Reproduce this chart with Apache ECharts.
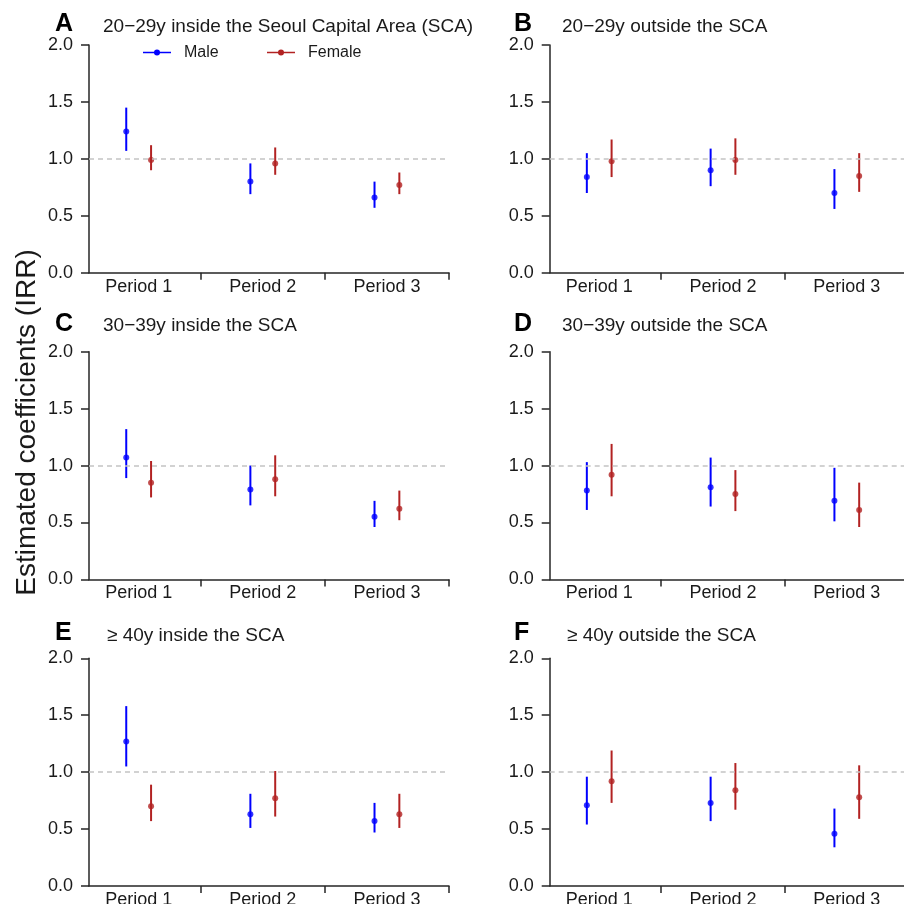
<!DOCTYPE html>
<html>
<head>
<meta charset="utf-8">
<script src="https://cdn.jsdelivr.net/npm/echarts@6/dist/echarts.min.js"></script>
<style>
html,body{margin:0;padding:0;background:#fff;}
#chart{width:904px;height:904px;}
</style>
</head>
<body>
<div id="chart"></div>
<script>
// ---- data ----
const periods = [1, 2, 3];
const periodLabels = ['Period 1', 'Period 2', 'Period 3'];
const yTicks = [0, 0.5, 1.0, 1.5, 2.0];
const panelLetters = ['A', 'B', 'C', 'D', 'E', 'F'];
const panelTitles = [
  '20\u221229y inside the Seoul Capital Area (SCA)',
  '20\u221229y outside the SCA',
  '30\u221239y inside the SCA',
  '30\u221239y outside the SCA',
  '\u2265 40y inside the SCA',
  '\u2265 40y outside the SCA'
];
const seriesNames = ['Male', 'Female'];
// rows = panels A..F, columns = Period 1..3
const maleEst  = [[1.24,0.80,0.66],[0.84,0.90,0.70],[1.07,0.79,0.55],[0.78,0.81,0.69],[1.27,0.63,0.57],[0.71,0.73,0.46]];
const maleLow  = [[1.07,0.69,0.57],[0.70,0.76,0.56],[0.89,0.65,0.46],[0.61,0.64,0.51],[1.05,0.51,0.47],[0.54,0.57,0.34]];
const maleHigh = [[1.45,0.96,0.80],[1.05,1.09,0.91],[1.32,1.00,0.69],[1.03,1.07,0.98],[1.58,0.81,0.73],[0.96,0.96,0.68]];
const femaleEst  = [[0.99,0.96,0.77],[0.98,0.99,0.85],[0.85,0.88,0.62],[0.92,0.75,0.61],[0.70,0.77,0.63],[0.92,0.84,0.78]];
const femaleLow  = [[0.90,0.86,0.69],[0.84,0.86,0.71],[0.72,0.73,0.52],[0.73,0.60,0.46],[0.57,0.61,0.51],[0.73,0.67,0.59]];
const femaleHigh = [[1.12,1.10,0.88],[1.17,1.18,1.05],[1.04,1.09,0.78],[1.19,0.96,0.85],[0.89,1.01,0.81],[1.19,1.08,1.06]];
const referenceValue = 1.0;

// ---- style / layout ----
const FONT = '"Liberation Sans", Arial, Helvetica, sans-serif';
const MALE_COLOR = '#0000FF';
const FEMALE_COLOR = '#B22222';
const AXIS_COLOR = '#262626';
const colLeft = [89, 549.7];
const gridWidth = [360, 359];
const rowTop = [45, 351.7, 658.3];
const gridHeight = 227.7;
const dodge = 0.1;
const letterY = [24, 324.5, 633.5];
const titleY = [26.5, 326, 635.5];
const letterX = [55, 514];
const titleX = [[103, 562], [103, 562], [107, 567]];

const chart = echarts.init(document.getElementById('chart'), null, {renderer: 'canvas'});

const grids = [], xAxes = [], yAxes = [], series = [], graphics = [];

function errBarSeries(idx, name, color, xs, lo, hi, withRef) {
  const s = {
    type: 'custom',
    name: name,
    xAxisIndex: idx, yAxisIndex: idx,
    data: xs.map((x, i) => [x, lo[i], hi[i]]),
    encode: {x: 0, y: [1, 2]},
    silent: true,
    renderItem: function (params, api) {
      const x = api.value(0);
      const a = api.coord([x, api.value(1)]);
      const b = api.coord([x, api.value(2)]);
      return {
        type: 'line',
        shape: {x1: a[0], y1: a[1], x2: b[0], y2: b[1]},
        style: {stroke: color, lineWidth: 2}
      };
    }
  };
  if (withRef) {
    s.markLine = {
      silent: true,
      symbol: ['none', 'none'],
      label: {show: false},
      lineStyle: {type: [5, 4], color: '#c4c4c4', width: 1.5},
      data: [{yAxis: referenceValue}]
    };
  }
  return s;
}

for (let p = 0; p < 6; p++) {
  const row = Math.floor(p / 2), col = p % 2;
  grids.push({
    left: colLeft[col], top: rowTop[row], width: gridWidth[col], height: gridHeight,
    containLabel: false, outerBoundsMode: 'none'
  });
  xAxes.push({
    type: 'value', gridIndex: p, min: 0.6, max: 3.5,
    splitLine: {show: false},
    axisLine: {show: true, onZero: false, lineStyle: {color: AXIS_COLOR, width: 1.5}},
    axisTick: {show: true, length: 7, lineStyle: {color: AXIS_COLOR, width: 1.5}, customValues: [1.5, 2.5, 3.5]},
    axisLabel: {
      show: true, customValues: periods, margin: 5,
      formatter: v => periodLabels[Math.round(v) - 1],
      color: '#1a1a1a', fontSize: 18, fontFamily: FONT
    }
  });
  yAxes.push({
    type: 'value', gridIndex: p, min: 0, max: 2, interval: 0.5,
    splitLine: {show: false},
    axisLine: {show: true, onZero: false, lineStyle: {color: AXIS_COLOR, width: 1.5}},
    axisTick: {show: true, length: 8, lineStyle: {color: AXIS_COLOR, width: 1.5}},
    axisLabel: {
      show: true, margin: 16,
      formatter: v => v.toFixed(1),
      color: '#1a1a1a', fontSize: 18, fontFamily: FONT
    }
  });
  const xm = periods.map(v => v - dodge);
  const xf = periods.map(v => v + dodge);
  series.push(errBarSeries(p, 'Male', MALE_COLOR, xm, maleLow[p], maleHigh[p], true));
  series.push(errBarSeries(p, 'Female', FEMALE_COLOR, xf, femaleLow[p], femaleHigh[p], false));
  series.push({
    type: 'scatter', name: 'Male', xAxisIndex: p, yAxisIndex: p, silent: true, z: 3,
    symbol: 'circle', symbolSize: 6, itemStyle: {color: MALE_COLOR},
    data: xm.map((x, i) => [x, maleEst[p][i]])
  });
  series.push({
    type: 'scatter', name: 'Female', xAxisIndex: p, yAxisIndex: p, silent: true, z: 3,
    symbol: 'circle', symbolSize: 6, itemStyle: {color: FEMALE_COLOR},
    data: xf.map((x, i) => [x, femaleEst[p][i]])
  });
  graphics.push({
    type: 'text', left: null, x: letterX[col], y: letterY[row],
    style: {text: panelLetters[p], font: 'bold 25px ' + FONT, fill: '#000', verticalAlign: 'middle', align: 'left'}
  });
  graphics.push({
    type: 'text', x: titleX[row][col], y: titleY[row],
    style: {text: panelTitles[p], font: '19px ' + FONT, fill: '#1a1a1a', verticalAlign: 'middle', align: 'left'}
  });
}

// y-axis title
graphics.push({
  type: 'text', x: 27, y: 422.5, rotation: Math.PI / 2,
  style: {text: 'Estimated coefficients (IRR)', font: '28px ' + FONT, fill: '#1a1a1a', align: 'center', verticalAlign: 'middle'}
});

// legend (panel A)
const legendItems = [
  {name: seriesNames[0], color: MALE_COLOR, x0: 143, tx: 184},
  {name: seriesNames[1], color: FEMALE_COLOR, x0: 267, tx: 308}
];
const legY = 52.5;
legendItems.forEach(it => {
  graphics.push({type: 'line', shape: {x1: it.x0, y1: legY, x2: it.x0 + 28, y2: legY}, style: {stroke: it.color, lineWidth: 1.5}});
  graphics.push({type: 'circle', shape: {cx: it.x0 + 14, cy: legY, r: 3}, style: {fill: it.color}});
  graphics.push({type: 'text', x: it.tx, y: legY + 0.5, style: {text: it.name, font: '16px ' + FONT, fill: '#1a1a1a', verticalAlign: 'middle', align: 'left'}});
});

chart.setOption({
  animation: false,
  backgroundColor: '#ffffff',
  grid: grids,
  xAxis: xAxes,
  yAxis: yAxes,
  series: series,
  graphic: {elements: graphics}
});
</script>
</body>
</html>
